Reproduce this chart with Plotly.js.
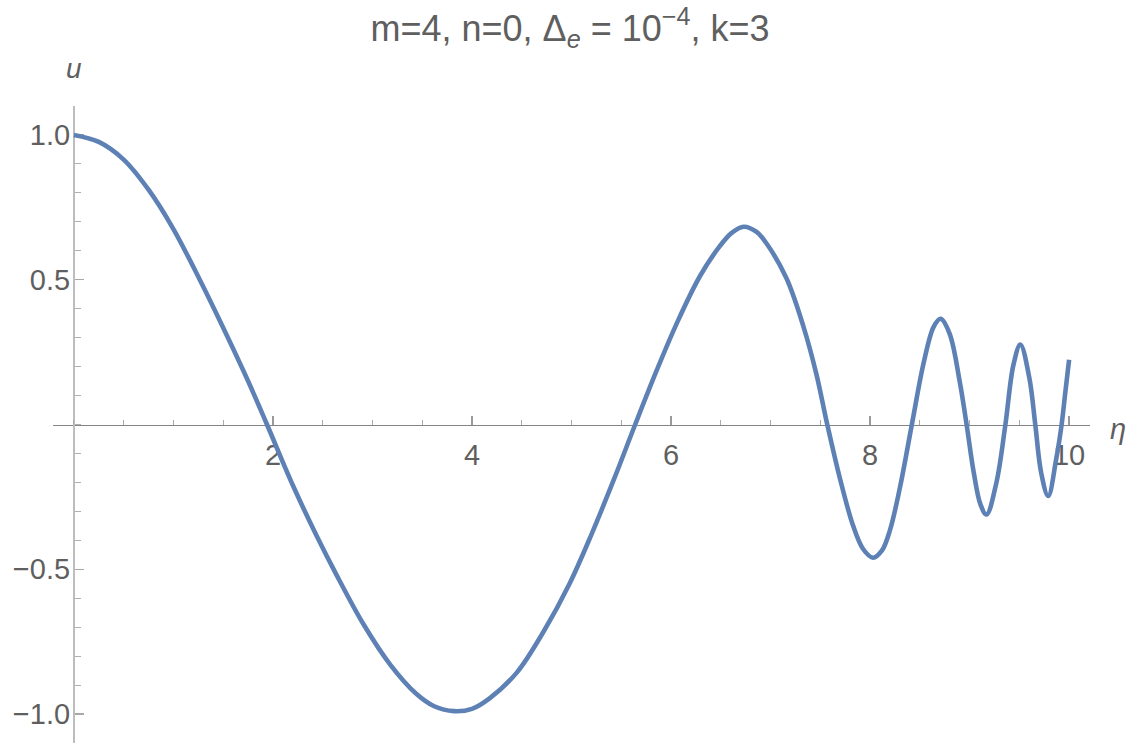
<!DOCTYPE html>
<html>
<head>
<meta charset="utf-8">
<script src="https://cdn.plot.ly/plotly-3.0.1.min.js"></script>
<style>html,body{margin:0;padding:0;background:#fff;}#chart{width:1133px;height:748px;}</style>
</head>
<body>
<div id="chart"></div>
<script>
// Curve u(eta)
const etaValues = [0, 0.25, 0.5, 0.75, 1.0, 1.25, 1.5, 1.75, 1.94, 2.2, 2.44, 2.64, 2.91, 3.18, 3.44, 3.62, 3.82, 4.0, 4.18, 4.45, 4.72, 4.98, 5.2, 5.42, 5.64, 5.86, 6.06, 6.29, 6.49, 6.61, 6.73, 6.86, 6.96, 7.16, 7.33, 7.46, 7.57, 7.7, 7.83, 7.93, 8.03, 8.12, 8.2, 8.3, 8.42, 8.54, 8.64, 8.71, 8.8, 8.9, 8.97, 9.04, 9.11, 9.17, 9.27, 9.36, 9.44, 9.51, 9.6, 9.66, 9.72, 9.79, 9.87, 9.925, 9.96, 10.0];
const uValues = [1.0, 0.976, 0.915, 0.811, 0.675, 0.51, 0.334, 0.15, 0, -0.21, -0.385, -0.52, -0.69, -0.83, -0.93, -0.973, -0.99, -0.982, -0.945, -0.857, -0.715, -0.55, -0.38, -0.195, 0, 0.19, 0.351, 0.512, 0.616, 0.662, 0.683, 0.665, 0.625, 0.505, 0.339, 0.175, 0, -0.19, -0.35, -0.43, -0.46, -0.435, -0.365, -0.218, 0, 0.215, 0.338, 0.365, 0.313, 0.15, 0, -0.162, -0.277, -0.311, -0.2, 0, 0.205, 0.276, 0.162, 0, -0.168, -0.247, -0.12, 0, 0.105, 0.224];

// Tick labels
const xTickVals = [2, 4, 6, 8, 10];
const xTickText = ['2', '4', '6', '8', '10'];
const yTickVals = [1.0, 0.5, -0.5, -1.0];
const yTickText = ['1.0', '0.5', '\u22120.5', '\u22121.0'];

const titleText = 'm=4, n=0, \u0394<sub><i>e</i></sub> = 10<sup>\u22124</sup>, k=3';
const xLabel = '\u03b7';
const yLabel = 'u';

const xRange = [-0.21, 10.21];
const yRange = [-1.1, 1.1];
const fontFam = '"Liberation Sans", Arial, Helvetica, sans-serif';
const textColor = '#5f5f5f';

const trace = {
  x: etaValues, y: uValues, type: 'scatter', mode: 'lines',
  line: {color: '#5e81b5', width: 4.6, shape: 'spline', smoothing: 1},
  hoverinfo: 'skip'
};

const layout = {
  width: 1133, height: 748,
  margin: {l: 53, r: 43, t: 106, b: 5, pad: 0},
  paper_bgcolor: '#ffffff', plot_bgcolor: '#ffffff',
  showlegend: false,
  font: {family: fontFam, color: textColor, size: 29},
  title: {
    text: titleText,
    font: {family: fontFam, size: 36, color: textColor},
    xref: 'container', yref: 'container',
    x: 570 / 1133, xanchor: 'center',
    y: 1 - 28 / 748, yanchor: 'middle'
  },
  xaxis: {
    range: xRange, anchor: 'free', position: 0.5,
    showgrid: false, zeroline: false,
    showline: true, linecolor: '#858585', linewidth: 1.2,
    ticks: 'inside', ticklen: 9, tickwidth: 1.2, tickcolor: '#9a9a9a',
    tickmode: 'array', tickvals: xTickVals, ticktext: xTickText,
    tickfont: {family: fontFam, size: 29, color: textColor},
    ticklabelstandoff: 4,
    minor: {dtick: 0.5, tick0: 0, ticks: 'inside', ticklen: 5, tickwidth: 1, tickcolor: '#aaaaaa', showgrid: false},
    layer: 'below traces', fixedrange: true
  },
  yaxis: {
    range: yRange, anchor: 'free', position: 0.21 / 10.42,
    showgrid: false, zeroline: false,
    showline: true, linecolor: '#bdbdbd', linewidth: 2,
    ticks: 'inside', ticklen: 9, tickwidth: 1.2, tickcolor: '#a8a8a8',
    tickmode: 'array', tickvals: yTickVals, ticktext: yTickText,
    tickfont: {family: fontFam, size: 29, color: textColor},
    ticklabelstandoff: -3,
    minor: {dtick: 0.1, tick0: 0, ticks: 'inside', ticklen: 6, tickwidth: 1, tickcolor: '#b0b0b0', showgrid: false},
    layer: 'below traces', fixedrange: true
  },
  annotations: [
    {text: '<i>' + yLabel + '</i>', xref: 'paper', yref: 'paper', x: 0.21 / 10.42, y: 1 + 38 / 637,
     xanchor: 'center', yanchor: 'middle', showarrow: false,
     font: {family: fontFam, size: 28, color: textColor}},
    {text: '<i>' + xLabel + '</i>', xref: 'paper', yref: 'paper', x: 1 + 28 / 1037, y: 0.5 - 5 / 637,
     xanchor: 'center', yanchor: 'middle', showarrow: false,
     font: {family: fontFam, size: 29, color: textColor}}
  ]
};

Plotly.newPlot('chart', [trace], layout, {staticPlot: true, displayModeBar: false});
</script>
</body>
</html>
